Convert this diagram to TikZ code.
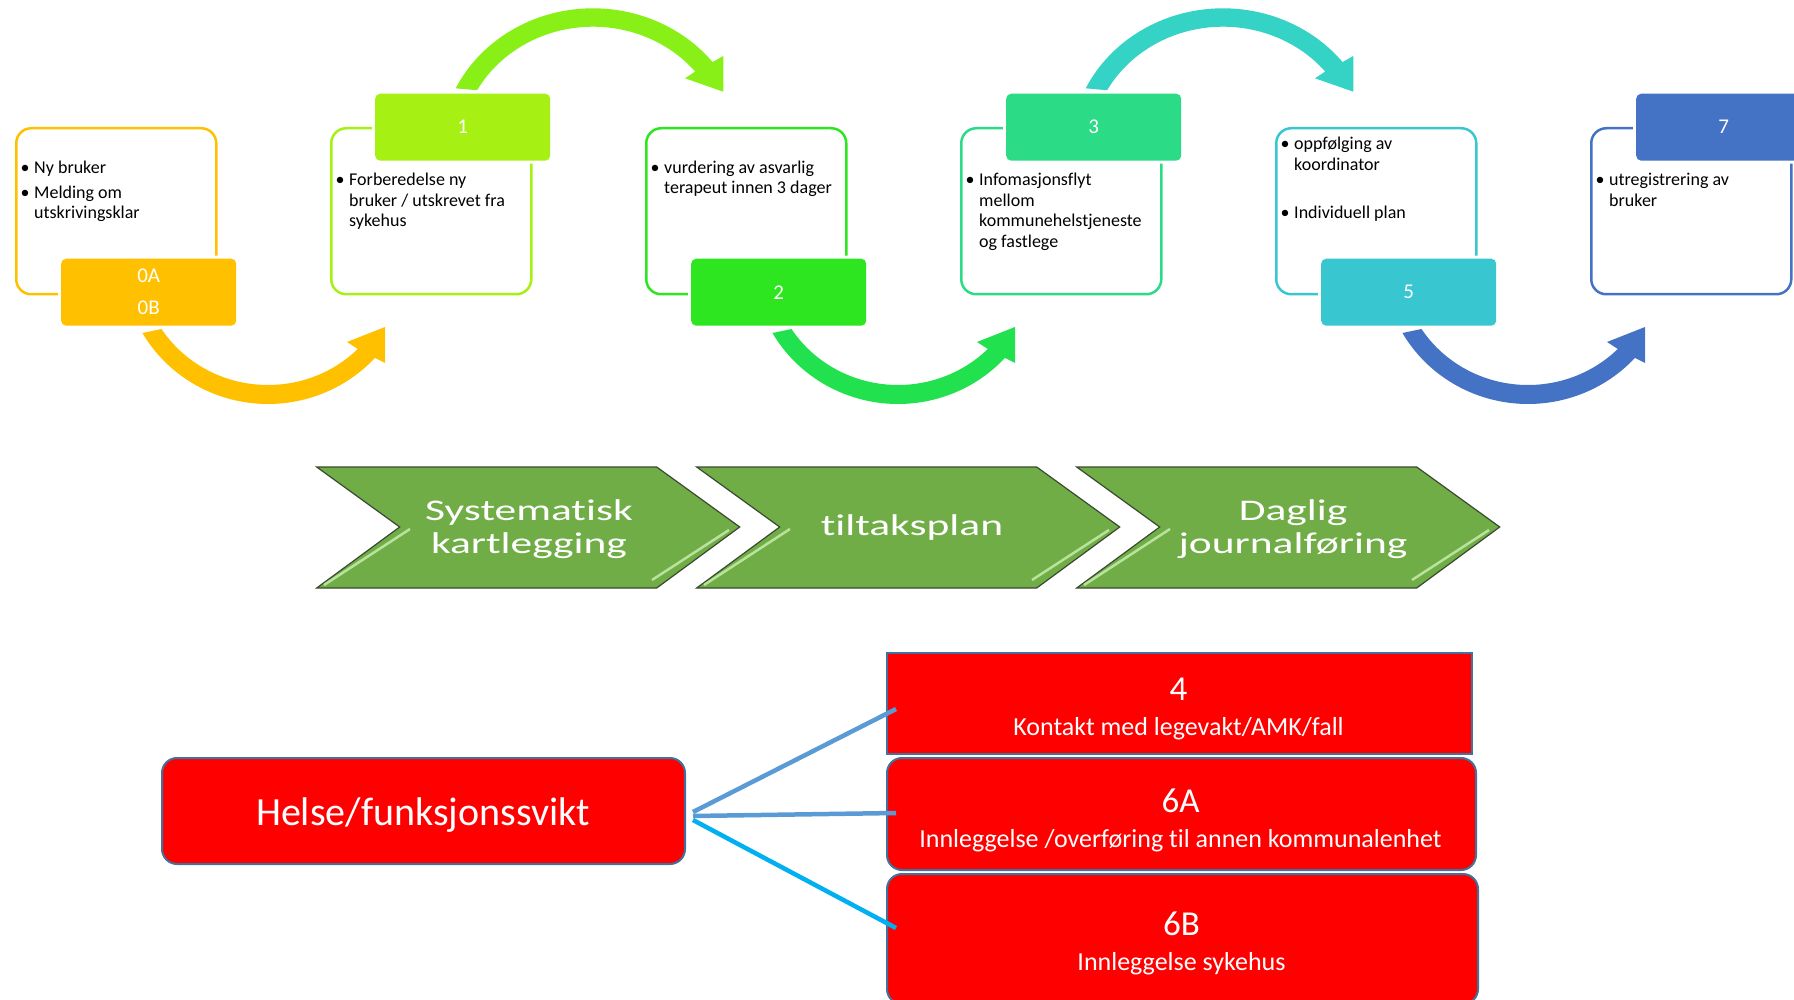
\documentclass[tikz,border=0pt]{standalone}
\usepackage{fontspec}
\setmainfont{Carlito}[Ligatures=NoCommon]
\newfontfamily\chevfont{Carlito}[FakeStretch=1.45,Ligatures=NoCommon]
\usetikzlibrary{calc}
\definecolor{cOrange}{HTML}{FFC000}
\definecolor{cLab1}{HTML}{A6F014}
\definecolor{cLab2}{HTML}{2EE620}
\definecolor{cLab3}{HTML}{2BDB86}
\definecolor{cLab5}{HTML}{38C6D0}
\definecolor{cLab7}{HTML}{4472C4}
\definecolor{cArrG1}{HTML}{88F016}
\definecolor{cArrG2}{HTML}{22E14E}
\definecolor{cArrT}{HTML}{35D3C5}
\definecolor{cArrB}{HTML}{4472C4}
\definecolor{chevGreen}{HTML}{70AD47}
\definecolor{chevHi}{HTML}{B9E39C}
\definecolor{chevLine}{HTML}{3A4A30}
\definecolor{redBorder}{HTML}{41719C}
\definecolor{connA}{HTML}{5B9BD5}
\definecolor{connB}{HTML}{00B0F0}
\newcommand\botarrow[2]{%
\begin{scope}[xshift=#1pt]
\fill[#2] plot[domain=147:45,samples=60] ({268+127*cos(\x)},{262+123*sin(\x)}) -- (347,342) -- (385,327) -- (385,363) -- (375,358) -- plot[domain=42.5:150,samples=60] ({268+145*cos(\x)},{262+142*sin(\x)}) -- cycle;
\end{scope}}
\newcommand\toparrow[2]{%
\begin{scope}[xshift=#1pt]
\fill[#2] plot[domain=209:320.5,samples=60] ({593+132.5*cos(\x)},{150+123.3*sin(\x)}) -- (685,78.3) -- (723.3,91.7) -- (723.3,56) -- (713.3,61.7) -- plot[domain=321.7:205.8,samples=60] ({593+152.5*cos(\x)},{150+141.7*sin(\x)}) -- cycle;
\end{scope}}
\newcommand\chevron[2]{%
\begin{scope}[xshift=#1pt]
\filldraw[fill=chevGreen, draw=chevLine, line width=1.2] (316.7,467) -- (656.7,467) -- (739.7,527) -- (656.7,588) -- (316.7,588) -- (399.7,527) -- cycle;
\draw[chevHi, line width=2.5] (410,529) -- (324,585);
\draw[chevHi, line width=2.5] (652,580) -- (729,530);
\end{scope}}
\begin{document}
\begin{tikzpicture}[x=1pt,y=-1pt,
  outerbox/.style={draw=#1, line width=2.5, rounded corners=15, minimum width=200, minimum height=166, inner sep=0, anchor=north west},
  labelbox/.style={fill=#1, preaction={draw=white, line width=6}, rounded corners=5, minimum width=175, minimum height=67, inner sep=0, anchor=north west, text=white, align=center, font=\fontsize{21}{32}\selectfont},
  btext/.style={anchor=base west, inner sep=0, font=\fontsize{18}{20.5}\selectfont},
  bdot/.style={anchor=base, inner sep=0, font=\fontsize{18}{20.5}\selectfont},
  chevtext/.style={text=white, align=center, inner sep=0, font=\chevfont\fontsize{30}{33}\selectfont},
  redbox/.style={fill=red, draw=redBorder, line width=2, inner sep=0, anchor=north west},
  rtext/.style={anchor=base, inner sep=0, text=white},
  conn/.style={line width=4.5, draw=#1}]
\useasboundingbox (0,0) rectangle (1794,1000);
\clip (0,0) rectangle (1794,1000);

% ---- outer boxes ----
\node[outerbox=cOrange] (b0) at (15,127) {};
\node[outerbox=cLab1] (b1) at (330,127) {};
\node[outerbox=cLab2] (b2) at (645,127) {};
\node[outerbox=cLab3] (b3) at (960,127) {};
\node[outerbox=cLab5] (b5) at (1275,127) {};
\node[outerbox=cLab7] (b7) at (1590,127) {};

% ---- labels ----
\node[labelbox=cOrange] (l0) at (61,258.5) {0A\\0B};
\node[labelbox=cLab1] (l1) at (375,93.5) {1};
\node[labelbox=cLab2] (l2) at (691,258.5) {2};
\node[labelbox=cLab3] (l3) at (1006,93.5) {3};
\node[labelbox=cLab5] (l5) at (1321,258.5) {5};
\node[labelbox=cLab7] (l7) at (1636,93.5) {7};

% ---- box texts ----
\node[bdot] (d0a) at (25,173.3) {•};
\node[btext] (t0a) at (34,173.3) {Ny bruker};
\node[bdot] (d0b) at (25,198.3) {•};
\node[btext] (t0b) at (34,198.3) {Melding om};
\node[btext] (t0c) at (34,218.6) {utskrivingsklar};

\node[bdot] (d1a) at (340,185.7) {•};
\node[btext] (t1a) at (349,185.7) {Forberedelse ny};
\node[btext] (t1b) at (349,206.2) {bruker / utskrevet fra};
\node[btext] (t1c) at (349,226.7) {sykehus};

\node[bdot] (d2a) at (655,173.3) {•};
\node[btext] (t2a) at (664,173.3) {vurdering av asvarlig};
\node[btext] (t2b) at (664,194) {terapeut innen 3 dager};

\node[bdot] (d3a) at (970,185.7) {•};
\node[btext] (t3a) at (979,185.7) {Infomasjonsflyt};
\node[btext] (t3b) at (979,206.2) {mellom};
\node[btext] (t3c) at (979,226.7) {kommunehelstjeneste};
\node[btext] (t3d) at (979,247.2) {og fastlege};

\node[bdot] (d5a) at (1285,150) {•};
\node[btext] (t5a) at (1294,150) {oppfølging av};
\node[btext] (t5b) at (1294,170.5) {koordinator};
\node[bdot] (d5b) at (1285,218.3) {•};
\node[btext] (t5c) at (1294,218.3) {Individuell plan};

\node[bdot] (d7a) at (1600,185.7) {•};
\node[btext] (t7a) at (1609,185.7) {utregistrering av};
\node[btext] (t7b) at (1609,206.2) {bruker};

% ---- curved arrows ----
\botarrow{0}{cOrange}
\toparrow{0}{cArrG1}
\botarrow{630}{cArrG2}
\toparrow{630}{cArrT}
\botarrow{1260}{cArrB}

% ---- chevrons ----
\chevron{0}{}
\chevron{380}{}
\chevron{760}{}
\node[chevtext] (c1) at (529,529) {Systematisk\\kartlegging};
\node[chevtext] (c2) at (912,528) {tiltaksplan};
\node[chevtext] (c3) at (1293,529) {Daglig\\journalføring};

% ---- red boxes ----
\node[redbox, rounded corners=15, minimum width=523, minimum height=106] (helse) at (161,757) {};
\node[rtext, font=\fontsize{40}{44}\selectfont] (helseT) at (423,825) {Helse/funksjonssvikt};

\node[redbox, minimum width=585, minimum height=101] (b4) at (886,652) {};
\node[rtext, font=\fontsize{35}{40}\selectfont] (b4n) at (1178.5,700) {4};
\node[rtext, font=\fontsize{26}{30}\selectfont] (b4t) at (1178.5,735) {Kontakt med legevakt/AMK/fall};

\node[redbox, rounded corners=15, minimum width=589, minimum height=112] (b6a) at (886,757) {};
\node[rtext, font=\fontsize{35}{40}\selectfont] (b6an) at (1180.5,812) {6A};
\node[rtext, font=\fontsize{26}{30}\selectfont] (b6at) at (1180.5,847) {Innleggelse /overføring til annen kommunalenhet};

\node[redbox, rounded corners=15, minimum width=591, minimum height=130] (b6b) at (886,873) {};
\node[rtext, font=\fontsize{35}{40}\selectfont] (b6bn) at (1181.5,935) {6B};
\node[rtext, font=\fontsize{26}{30}\selectfont] (b6bt) at (1181.5,970) {Innleggelse sykehus};

% ---- connectors ----
\draw[conn=connA] ([shift={(7,1)}]helse.east) -- ([shift={(10,5.5)}]b4.west);
\draw[conn=connA] ([shift={(7,5)}]helse.east) -- ([shift={(10,-1)}]b6a.west);
\draw[conn=connB] ([shift={(7,9)}]helse.east) -- ([shift={(10,-11)}]b6b.west);
\end{tikzpicture}
\end{document}
